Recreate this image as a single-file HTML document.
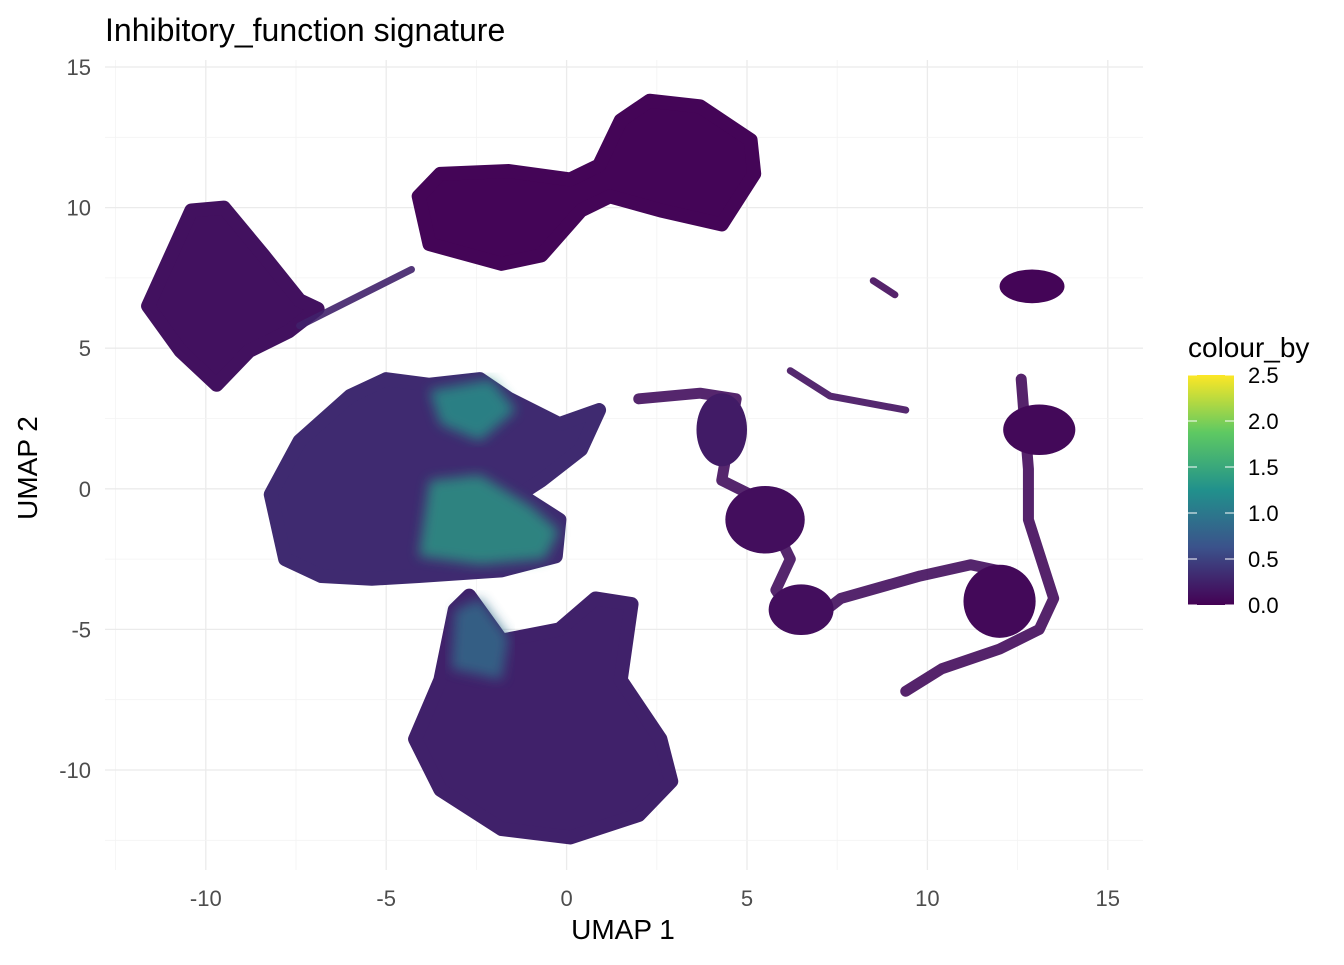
<!DOCTYPE html>
<html><head><meta charset="utf-8"><style>
body{margin:0;background:#fff;}
svg text{font-family:"Liberation Sans",Arial,sans-serif;}
</style></head><body>
<svg id="chart" width="1344" height="960" viewBox="0 0 1344 960">
<defs><linearGradient id="vir" x1="0" y1="1" x2="0" y2="0">
<stop offset="0" stop-color="#440154"/><stop offset="0.25" stop-color="#3b528b"/><stop offset="0.5" stop-color="#21918c"/><stop offset="0.75" stop-color="#5ec962"/><stop offset="1" stop-color="#fde725"/></linearGradient>
<filter id="soft"><feGaussianBlur stdDeviation="6"/></filter></defs>
<g id="grid"></g><g id="marks"></g><g id="axes"></g>
<text x="105" y="41" font-size="32" fill="#000">Inhibitory_function signature</text>
<text x="623" y="939" font-size="28" text-anchor="middle" fill="#000">UMAP 1</text>
<text transform="translate(37,468) rotate(-90)" font-size="28" text-anchor="middle" fill="#000">UMAP 2</text>
<g>
<text x="1188" y="357" font-size="28" fill="#000">colour_by</text>
<rect x="1188" y="375" width="46" height="230" fill="url(#vir)"/>
<g id="legticks"></g></g>
</svg>
<script>
const xTicks=[-10,-5,0,5,10,15];
const yTicks=[-10,-5,0,5,10,15];
const legendTicks=[0,0.5,1,1.5,2,2.5];
const clusterNames=['cluster-top-left','cluster-top-middle','cluster-left-center','cluster-bottom'];
const clusterValues=[0.12,0.03,0.32,0.25];
const clusterPolys=[
[[-11.6,6.5],[-10.4,9.9],[-9.5,10.0],[-8.4,8.3],[-7.4,6.7],[-6.9,6.4],[-7.7,5.6],[-8.8,4.9],[-9.7,3.7],[-10.7,4.9]],
[[-4.1,10.4],[-3.5,11.2],[-1.6,11.3],[0.1,11.0],[0.9,11.5],[1.5,13.1],[2.3,13.8],[3.7,13.6],[5.1,12.4],[5.2,11.2],[4.3,9.4],[2.6,9.9],[1.2,10.4],[0.4,9.9],[-0.7,8.3],[-1.8,8.0],[-3.8,8.7]],
[[-8.2,-0.2],[-7.4,1.7],[-6.0,3.3],[-5.0,3.9],[-3.8,3.7],[-2.4,3.9],[-1.6,3.2],[-0.2,2.3],[0.9,2.8],[0.4,1.4],[-0.7,0.3],[-1.3,-0.2],[-0.2,-1.1],[-0.3,-2.4],[-1.8,-2.9],[-4.1,-3.1],[-5.4,-3.2],[-6.8,-3.1],[-7.8,-2.5]],
[[-4.2,-8.9],[-3.5,-6.8],[-3.1,-4.3],[-2.7,-3.8],[-1.8,-5.4],[-0.2,-5.0],[0.8,-3.9],[1.8,-4.1],[1.5,-6.8],[2.6,-8.9],[2.9,-10.4],[2.0,-11.6],[0.1,-12.4],[-1.8,-12.1],[-3.5,-10.7]]];
const patchValues=[1.3,1.35,0.9];
const patchPolys=[
[[-3.8,3.5],[-2.1,3.9],[-1.4,2.8],[-2.4,1.7],[-3.5,2.3]],
[[-3.8,0.3],[-2.4,0.5],[-1.0,-0.6],[-0.2,-1.5],[-0.6,-2.5],[-2.4,-2.7],[-4.1,-2.4]],
[[-3.1,-4.3],[-2.4,-3.9],[-1.6,-5.3],[-1.8,-6.8],[-3.2,-6.4]]];
const blobCenters=[[4.3,2.1],[5.5,-1.1],[6.5,-4.3],[12.0,-4.0],[13.1,2.1],[12.9,7.2]];
const blobRadii=[[0.7,1.3],[1.1,1.2],[0.9,0.9],[1.0,1.3],[1.0,0.9],[0.9,0.6]];
const blobValues=[0.2,0.1,0.1,0.06,0.06,0.03];
const chainValues=[0.1,0.08,0.12,0.08,0.25];
const chains=[
[[2.0,3.2],[3.7,3.4],[4.7,3.2],[4.3,0.3],[5.4,-0.4],[6.2,-2.5],[5.8,-3.6],[6.5,-5.0],[7.6,-3.9],[9.8,-3.1],[11.2,-2.7],[12.3,-3.0]],
[[12.6,3.9],[12.8,0.7],[12.8,-1.1],[13.5,-3.9],[13.1,-5.0],[12.0,-5.7],[10.4,-6.4],[9.4,-7.2]],
[[6.2,4.2],[7.3,3.3],[9.4,2.8]],
[[8.5,7.4],[9.1,6.9]],
[[-7.4,5.8],[-4.3,7.8]]];
const X=v=>566.6+v*36.08, Y=v=>488.8-v*28.12;
const NS='http://www.w3.org/2000/svg';
function mk(t,a,p){const e=document.createElementNS(NS,t);for(const k in a)e.setAttribute(k,a[k]);p.appendChild(e);return e;}
const vs=[[68,1,84],[59,82,139],[33,145,140],[94,201,98],[253,231,37]];
function vir(v){let t=Math.max(0,Math.min(1,v/2.5))*4;const i=Math.min(3,Math.floor(t)),f=t-i;const a=vs[i],b=vs[i+1];return 'rgb('+a.map((c,j)=>Math.round(c+(b[j]-c)*f)).join(',')+')';}
const grid=document.getElementById('grid'),marks=document.getElementById('marks'),axes=document.getElementById('axes');
for(let i=0;i<xTicks.length;i++){const v=xTicks[i];
 let l=mk('line',{x1:X(v),x2:X(v),y1:60,y2:870,stroke:'#ebebeb','stroke-width':1.3},grid);
 
 let m=mk('line',{x1:X(v-2.5),x2:X(v-2.5),y1:60,y2:870,stroke:'#f3f3f3','stroke-width':0.8},grid);
 
 let t=mk('text',{x:X(v),y:906,'font-size':22,'text-anchor':'middle',fill:'#4d4d4d'},axes);t.textContent=v;
 }
for(let i=0;i<yTicks.length;i++){const v=yTicks[i];
 let l=mk('line',{x1:105,x2:1143,y1:Y(v),y2:Y(v),stroke:'#ebebeb','stroke-width':1.3},grid);
 
 let m=mk('line',{x1:105,x2:1143,y1:Y(v-2.5),y2:Y(v-2.5),stroke:'#f3f3f3','stroke-width':0.8},grid);
 
 let t=mk('text',{x:91,y:Y(v)+8,'font-size':22,'text-anchor':'end',fill:'#4d4d4d'},axes);t.textContent=v;
 }
const pts=p=>p.map(q=>X(q[0])+','+Y(q[1])).join(' ');
for(let i=0;i<clusterPolys.length;i++){
 const e=mk('polygon',{points:pts(clusterPolys[i]),fill:vir(clusterValues[i]),stroke:vir(clusterValues[i]),'stroke-width':14,'stroke-linejoin':'round'},marks);
 }
for(let i=0;i<patchPolys.length;i++){
 const e=mk('polygon',{points:pts(patchPolys[i]),fill:vir(patchValues[i]),opacity:0.8,filter:'url(#soft)'},marks);
 }
for(let i=0;i<chains.length;i++){
 const e=mk('polyline',{points:pts(chains[i]),fill:'none',stroke:vir(chainValues[i]),'stroke-width':i<2?11:7,'stroke-linejoin':'round','stroke-linecap':'round',opacity:0.9},marks);
 }
for(let i=0;i<blobCenters.length;i++){
 const e=mk('ellipse',{cx:X(blobCenters[i][0]),cy:Y(blobCenters[i][1]),rx:blobRadii[i][0]*36.08,ry:blobRadii[i][1]*28.12,fill:vir(blobValues[i])},marks);
 }
const lt=document.getElementById('legticks');
for(let i=0;i<legendTicks.length;i++){const v=legendTicks[i],y=605-v/2.5*230;
 let a=mk('line',{x1:1188,x2:1197,y1:y,y2:y,stroke:'#fff','stroke-width':1},lt);
 
 let b=mk('line',{x1:1225,x2:1234,y1:y,y2:y,stroke:'#fff','stroke-width':1},lt);
 
 let t=mk('text',{x:1248,y:y+8,'font-size':22,fill:'#000'},lt);t.textContent=v.toFixed(1);
 }
</script>
</body></html>
